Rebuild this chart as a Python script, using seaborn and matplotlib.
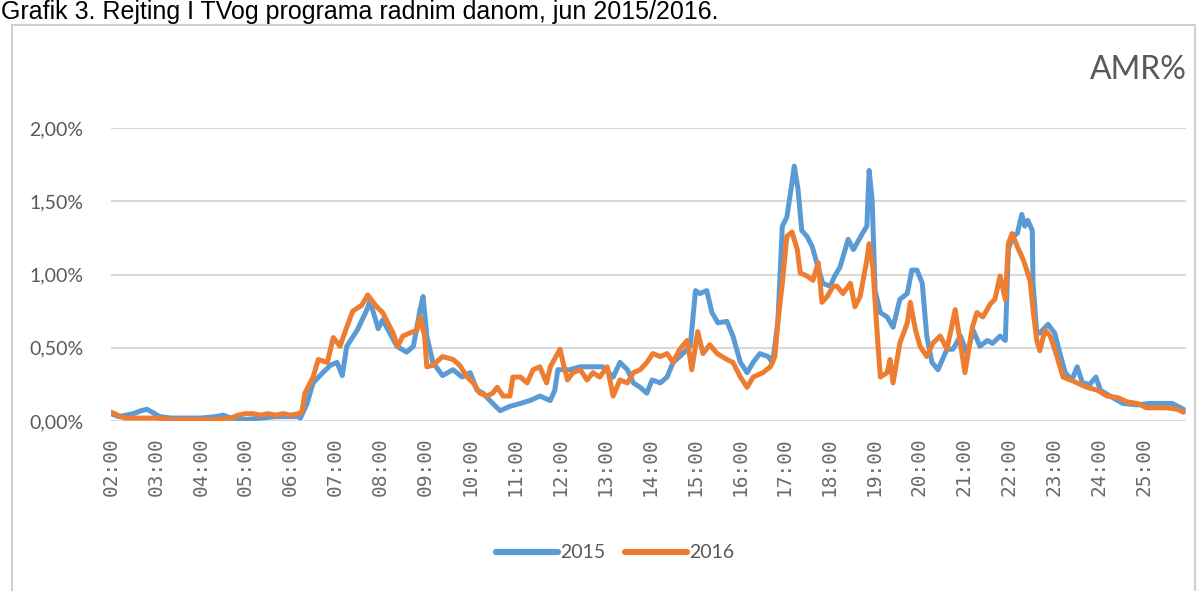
import matplotlib
matplotlib.use("Agg")
import matplotlib.pyplot as plt
import seaborn as sns
import pandas as pd
from matplotlib.ticker import FuncFormatter
from matplotlib.patches import Rectangle
from matplotlib.lines import Line2D

# ---------------- data (AMR %) ----------------
title_text = "Grafik 3. Rejting I TVog programa radnim danom, jun 2015/2016."
series_names = ["2015", "2016"]
hour_ticks = ["02:00", "03:00", "04:00", "05:00", "06:00", "07:00", "08:00", "09:00",
              "10:00", "11:00", "12:00", "13:00", "14:00", "15:00", "16:00", "17:00",
              "18:00", "19:00", "20:00", "21:00", "22:00", "23:00", "24:00", "25:00"]
y_ticks = [0.0, 0.5, 1.0, 1.5, 2.0]

t_2015 = ["02:00", "02:10", "02:20", "02:30", "02:40", "02:48", "02:55", "03:05", "03:20", "03:40",
          "04:00", "04:20", "04:30", "04:40", "05:00", "05:20", "05:40", "06:00", "06:10", "06:13",
          "06:22", "06:30", "06:43", "06:53", "07:02", "07:09", "07:15", "07:29", "07:42", "07:46",
          "07:57", "08:03", "08:22", "08:35", "08:44", "08:53", "08:57", "09:02", "09:10", "09:23",
          "09:37", "09:49", "10:00", "10:09", "10:17", "10:30", "10:40", "10:53", "11:07", "11:20",
          "11:33", "11:47", "11:53", "11:57", "12:13", "12:27", "12:44", "12:57", "13:11", "13:20",
          "13:30", "13:38", "13:47", "13:56", "14:03", "14:14", "14:23", "14:31", "14:40", "14:54",
          "15:01", "15:07", "15:16", "15:23", "15:31", "15:43", "15:51", "16:01", "16:10", "16:18",
          "16:27", "16:38", "16:44", "16:51", "16:57", "17:03", "17:10", "17:13", "17:18", "17:23",
          "17:30", "17:37", "17:43", "17:51", "18:01", "18:07", "18:14", "18:25", "18:32", "18:44",
          "18:50", "18:53", "18:57", "19:01", "19:08", "19:17", "19:25", "19:34", "19:44", "19:50",
          "19:57", "20:04", "20:10", "20:17", "20:25", "20:37", "20:45", "20:55", "21:04", "21:12",
          "21:21", "21:31", "21:38", "21:48", "21:55", "21:59", "22:05", "22:11", "22:17", "22:21",
          "22:25", "22:31", "22:32", "22:37", "22:41", "22:52", "23:01", "23:08", "23:15", "23:24",
          "23:31", "23:38", "23:48", "23:56", "24:02", "24:15", "24:32", "24:51", "25:08", "25:26",
          "25:38", "25:53"]
v_2015 = [0.05, 0.03, 0.04, 0.05, 0.07, 0.08, 0.06, 0.03, 0.02, 0.02,
          0.02, 0.03, 0.04, 0.02, 0.01, 0.02, 0.03, 0.03, 0.03, 0.02,
          0.12, 0.26, 0.33, 0.38, 0.40, 0.31, 0.51, 0.62, 0.76, 0.82,
          0.63, 0.69, 0.51, 0.47, 0.51, 0.76, 0.85, 0.58, 0.40, 0.31,
          0.35, 0.30, 0.33, 0.21, 0.19, 0.12, 0.07, 0.10, 0.12, 0.14,
          0.17, 0.14, 0.21, 0.35, 0.35, 0.37, 0.37, 0.37, 0.30, 0.40,
          0.35, 0.26, 0.23, 0.19, 0.28, 0.26, 0.30, 0.40, 0.44, 0.51,
          0.89, 0.87, 0.89, 0.74, 0.67, 0.68, 0.58, 0.40, 0.33, 0.40,
          0.46, 0.44, 0.40, 0.67, 1.33, 1.39, 1.63, 1.74, 1.58, 1.30,
          1.26, 1.19, 1.08, 0.94, 0.92, 0.99, 1.05, 1.24, 1.17, 1.28,
          1.33, 1.71, 1.51, 0.89, 0.74, 0.71, 0.64, 0.83, 0.87, 1.03,
          1.03, 0.94, 0.58, 0.40, 0.35, 0.49, 0.49, 0.58, 0.46, 0.62,
          0.51, 0.55, 0.53, 0.58, 0.55, 1.17, 1.26, 1.28, 1.41, 1.33,
          1.37, 1.30, 0.94, 0.60, 0.60, 0.66, 0.60, 0.46, 0.33, 0.28,
          0.37, 0.26, 0.25, 0.30, 0.21, 0.17, 0.12, 0.11, 0.12, 0.12,
          0.12, 0.08]

t_2016 = ["02:00", "02:05", "02:12", "02:20", "02:40", "03:00", "03:20", "03:40", "04:00", "04:20",
          "04:40", "04:50", "05:00", "05:10", "05:20", "05:30", "05:40", "05:50", "06:00", "06:10",
          "06:15", "06:19", "06:30", "06:37", "06:49", "06:57", "07:06", "07:15", "07:23", "07:35",
          "07:43", "07:55", "08:03", "08:17", "08:23", "08:30", "08:39", "08:49", "08:53", "08:59",
          "09:02", "09:10", "09:23", "09:37", "09:46", "09:56", "10:04", "10:13", "10:22", "10:30",
          "10:36", "10:44", "10:53", "10:57", "11:07", "11:16", "11:24", "11:33", "11:42", "11:47",
          "12:00", "12:04", "12:10", "12:17", "12:27", "12:36", "12:44", "12:53", "13:03", "13:11",
          "13:20", "13:30", "13:38", "13:47", "13:56", "14:04", "14:14", "14:23", "14:31", "14:40",
          "14:50", "14:56", "15:04", "15:11", "15:20", "15:30", "15:43", "15:51", "16:01", "16:10",
          "16:18", "16:31", "16:41", "16:47", "16:51", "16:57", "17:03", "17:10", "17:17", "17:21",
          "17:30", "17:38", "17:45", "17:50", "17:57", "18:05", "18:10", "18:18", "18:28", "18:34",
          "18:41", "18:50", "18:53", "18:58", "19:04", "19:08", "19:17", "19:21", "19:25", "19:34",
          "19:44", "19:48", "19:55", "20:01", "20:10", "20:18", "20:28", "20:37", "20:48", "20:55",
          "21:01", "21:11", "21:17", "21:25", "21:35", "21:41", "21:48", "21:55", "21:59", "22:04",
          "22:11", "22:19", "22:28", "22:32", "22:37", "22:41", "22:48", "22:55", "23:04", "23:12",
          "23:22", "23:31", "23:44", "23:58", "24:11", "24:25", "24:38", "24:51", "25:04", "25:18",
          "25:31", "25:45", "25:53"]
v_2016 = [0.06, 0.05, 0.03, 0.02, 0.02, 0.02, 0.01, 0.01, 0.01, 0.01,
          0.02, 0.04, 0.05, 0.05, 0.04, 0.05, 0.04, 0.05, 0.04, 0.05,
          0.06, 0.19, 0.30, 0.42, 0.40, 0.57, 0.51, 0.64, 0.75, 0.79,
          0.86, 0.78, 0.74, 0.60, 0.51, 0.58, 0.60, 0.62, 0.71, 0.58,
          0.37, 0.38, 0.44, 0.42, 0.38, 0.30, 0.26, 0.19, 0.17, 0.19,
          0.23, 0.17, 0.17, 0.30, 0.30, 0.26, 0.35, 0.37, 0.26, 0.37,
          0.49, 0.40, 0.28, 0.33, 0.35, 0.28, 0.33, 0.30, 0.37, 0.17,
          0.28, 0.26, 0.33, 0.35, 0.40, 0.46, 0.44, 0.46, 0.40, 0.49,
          0.55, 0.35, 0.61, 0.46, 0.52, 0.46, 0.42, 0.40, 0.30, 0.23,
          0.30, 0.33, 0.37, 0.44, 0.67, 0.94, 1.26, 1.29, 1.17, 1.01,
          0.99, 0.96, 1.08, 0.81, 0.85, 0.92, 0.92, 0.87, 0.94, 0.78,
          0.85, 1.10, 1.21, 1.05, 0.58, 0.30, 0.33, 0.42, 0.26, 0.53,
          0.67, 0.81, 0.62, 0.51, 0.44, 0.53, 0.58, 0.49, 0.76, 0.53,
          0.33, 0.64, 0.74, 0.71, 0.80, 0.83, 0.99, 0.83, 1.21, 1.28,
          1.19, 1.10, 0.96, 0.76, 0.55, 0.48, 0.62, 0.58, 0.44, 0.30,
          0.28, 0.26, 0.23, 0.21, 0.17, 0.16, 0.13, 0.12, 0.09, 0.09,
          0.09, 0.08, 0.06]

colors = {"2015": "#5B9BD5", "2016": "#ED7D31"}


def to_hours(s):
    h, m = s.split(":")
    return int(h) + int(m) / 60.0


frames = []
for name, tt, vv in [("2015", t_2015, v_2015), ("2016", t_2016, v_2016)]:
    frames.append(pd.DataFrame({"hour": [to_hours(t) for t in tt], "amr": vv, "year": name}))
df = pd.concat(frames, ignore_index=True)

# ---------------- figure ----------------
sns.set_theme(style="white")
plt.rcParams["font.family"] = ["Lato", "DejaVu Sans"]

W, H = 1200, 591
fig = plt.figure(figsize=(W / 100, H / 100), dpi=100)

# outer chart frame (runs off the bottom edge)
fig.patches.append(Rectangle((12 / W, -0.05), (1195 - 12) / W, 1 - 25 / H + 0.05,
                             transform=fig.transFigure, fill=False,
                             edgecolor="#d0d0d0", linewidth=1.5))

fig.text(1 / W, 1 - 19 / H, title_text, fontsize=18, color="black",
         family="Liberation Sans", ha="left", va="baseline")

ax = fig.add_axes([111 / W, 1 - 421 / H, (1186 - 111) / W, (421 - 128) / H])

sns.lineplot(data=df, x="hour", y="amr", hue="year", palette=colors,
             hue_order=series_names, estimator=None, sort=False,
             linewidth=3.6, ax=ax, legend=False)

ax.set_xlim(2.0, 25.94)
ax.set_ylim(0, 2.0)
ax.set_xticks([to_hours(t) for t in hour_ticks])
ax.set_xticklabels(hour_ticks, rotation=90, family="DejaVu Sans Mono",
                   fontsize=14, color="#6a6a6a")
ax.set_yticks(y_ticks)
ax.yaxis.set_major_formatter(FuncFormatter(lambda v, p: f"{v:.2f}%".replace(".", ",")))
for lab in ax.get_yticklabels():
    lab.set_fontsize(14)
    lab.set_color("#595959")
ax.tick_params(axis="x", length=0, pad=12)
ax.tick_params(axis="y", length=0, pad=20)
ax.grid(axis="y", color="#d9d9d9", linewidth=1.5)
ax.grid(axis="x", visible=False)
for s in ax.spines.values():
    s.set_visible(False)
ax.set_xlabel("")
ax.set_ylabel("")
ax.set_axisbelow(True)

fig.text(1187 / W, 1 - 70 / H, "AMR%", fontsize=23, color="#595959",
         ha="right", va="center")

handles = [Line2D([], [], color=colors[n], linewidth=4.5, solid_capstyle="round") for n in series_names]
fig.legend(handles, series_names, loc="center", bbox_to_anchor=(615 / W, 1 - 553 / H),
           ncol=2, frameon=False, fontsize=14, handlelength=3.2, handletextpad=0.1,
           columnspacing=1.0, labelcolor="#595959")

fig.savefig("out.png", dpi=100, facecolor="white")
